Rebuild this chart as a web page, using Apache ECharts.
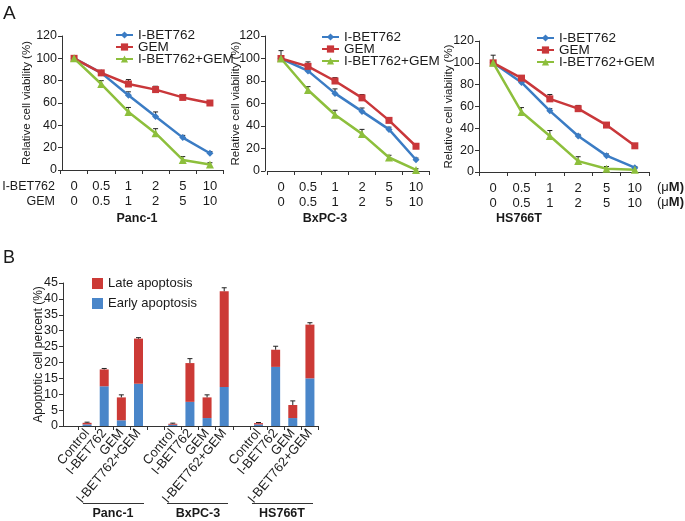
<!DOCTYPE html>
<html>
<head>
<meta charset="utf-8">
<script src="https://cdn.jsdelivr.net/npm/echarts@6/dist/echarts.min.js"></script>
<style>html,body{margin:0;padding:0;background:#fff}#c{width:685px;height:521px}</style>
</head>
<body>
<div id="c"></div>
<script>
// ---- Data: panel A (relative cell viability, %) ----
const ibetDoses = ['0', '0.5', '1', '2', '5', '10'];
const gemDoses = ['0', '0.5', '1', '2', '5', '10'];
const seriesNames = ['I-BET762', 'GEM', 'I-BET762+GEM'];
const cellLines = ['Panc-1', 'BxPC-3', 'HS766T'];

const panc1_ibet = [100, 87, 67, 48, 29, 15];
const panc1_gem = [100, 87, 77, 72, 65, 60];
const panc1_combo = [100, 77, 52, 33, 9, 5];
const panc1_ibet_err = [2, 2, 3, 4, 2, 1.5];
const panc1_gem_err = [1.5, 2, 4, 3, 1.5, 1.5];
const panc1_combo_err = [1.5, 3, 4, 4, 3, 1.5];

const bxpc3_ibet = [100, 89, 69, 53, 37, 10];
const bxpc3_gem = [100, 93, 80, 65, 45, 22];
const bxpc3_combo = [100, 72, 50, 33, 12, 1];
const bxpc3_ibet_err = [7, 2, 4, 3, 2, 1.5];
const bxpc3_gem_err = [2, 4, 3, 3, 1.5, 1.5];
const bxpc3_combo_err = [1.5, 3, 4, 4, 2, 1];

const hs766t_ibet = [100, 82, 56, 33, 15, 4];
const hs766t_gem = [100, 86, 67, 58, 43, 24];
const hs766t_combo = [100, 55, 33, 10, 3, 2];
const hs766t_ibet_err = [7, 2, 2, 1.5, 1.5, 1];
const hs766t_gem_err = [2, 2, 4, 3, 2, 1.5];
const hs766t_combo_err = [1.5, 4, 5, 4, 2, 1];

// ---- Data: panel B (apoptotic cell percent, %) ----
const barCats = ['Control', 'I-BET762', 'GEM', 'I-BET762+GEM', ' ',
                 'Control', 'I-BET762', 'GEM', 'I-BET762+GEM', '  ',
                 'Control', 'I-BET762', 'GEM', 'I-BET762+GEM'];
const earlyApop = [0.5, 12.5, 1.8, 13.3, null, 0.4, 7.6, 2.5, 12.3, null, 0.5, 18.6, 2.5, 15.0];
const lateApop = [0.5, 5.3, 7.2, 14.2, null, 0.3, 12.2, 6.5, 30.1, null, 0.4, 5.4, 4.1, 16.9];
const totalErr = [0.2, 0.3, 0.8, 0.3, null, 0.2, 1.4, 0.8, 1.1, null, 0.2, 1.1, 1.3, 0.6];

const panels = [
  {vals: [panc1_ibet, panc1_gem, panc1_combo], errs: [panc1_ibet_err, panc1_gem_err, panc1_combo_err]},
  {vals: [bxpc3_ibet, bxpc3_gem, bxpc3_combo], errs: [bxpc3_ibet_err, bxpc3_gem_err, bxpc3_combo_err]},
  {vals: [hs766t_ibet, hs766t_gem, hs766t_combo], errs: [hs766t_ibet_err, hs766t_gem_err, hs766t_combo_err]}
];

const FONT = "'Liberation Sans', Arial, Helvetica, sans-serif";
const TXT = '#1a1a1a';
const lineColors = ['#3b7cc4', '#c9373a', '#8dbf3c'];
const symbols = ['diamond', 'rect', 'triangle'];
const symbolSizes = [7, 7, 8];
const redBar = '#cc3a36';
const blueBar = '#4a86c9';

function errRender(params, api) {
  const x = api.value(0), y = api.value(1), e = api.value(2);
  if (e == null || isNaN(e)) return;
  const p0 = api.coord([x, y]);
  const p1 = api.coord([x, y + e]);
  const hw = 2.5;
  return {
    type: 'group',
    children: [
      {type: 'line', shape: {x1: p0[0], y1: p0[1], x2: p1[0], y2: p1[1]}, style: {stroke: '#222', lineWidth: 1}},
      {type: 'line', shape: {x1: p1[0] - hw, y1: p1[1], x2: p1[0] + hw, y2: p1[1]}, style: {stroke: '#222', lineWidth: 1}}
    ]
  };
}

const gridsA = [
  {left: 60.5, top: 36, width: 163, height: 134, yOff: -1.5, nameGap: 29},
  {left: 267.5, top: 36, width: 162, height: 135, yOff: 2.5, nameGap: 23},
  {left: 479, top: 41, width: 170, height: 131, yOff: 0, nameGap: 24}
];

const grid = [], xAxis = [], yAxis = [], series = [];
gridsA.forEach((g, k) => {
  grid.push({left: g.left, top: g.top, width: g.width, height: g.height, containLabel: false});
  xAxis.push({
    type: 'category', gridIndex: k, data: ibetDoses,
    axisLine: {lineStyle: {color: '#333', width: 1}},
    axisTick: {show: true, length: 4, lineStyle: {color: '#333'}},
    axisLabel: {
      interval: 0, margin: 9, color: TXT, fontFamily: FONT, fontSize: 13, lineHeight: 15,
      formatter: (v, i) => ibetDoses[i] + '\n' + gemDoses[i]
    }
  });
  yAxis.push({
    type: 'value', gridIndex: k, min: 0, max: 120, interval: 20, offset: g.yOff,
    name: 'Relative cell viability (%)', nameLocation: 'middle', nameGap: g.nameGap,
    nameMoveOverlap: false,
    nameTextStyle: {color: TXT, fontFamily: FONT, fontSize: 11.5},
    axisLine: {show: true, lineStyle: {color: '#333', width: 1}},
    axisTick: {show: true, length: 4, lineStyle: {color: '#333'}},
    axisLabel: {color: TXT, fontFamily: FONT, fontSize: 12.5, margin: 5},
    splitLine: {show: false}
  });
  const p = panels[k];
  p.vals.forEach((vals, s) => {
    series.push({
      type: 'custom', xAxisIndex: k, yAxisIndex: k, z: 1, silent: true,
      renderItem: errRender, encode: {x: 0, y: 1},
      data: vals.map((v, i) => [i, v, p.errs[s][i]])
    });
  });
  p.vals.forEach((vals, s) => {
    series.push({
      name: seriesNames[s], type: 'line', xAxisIndex: k, yAxisIndex: k, z: 3,
      data: vals, symbol: symbols[s], symbolSize: symbolSizes[s], showSymbol: true,
      lineStyle: {color: lineColors[s], width: 2.5},
      itemStyle: {color: lineColors[s]}, animation: false
    });
  });
});

// Panel B grid
grid.push({left: 78.5, top: 283, width: 240, height: 143});
xAxis.push({
  type: 'category', gridIndex: 3, data: barCats,
  axisLine: {lineStyle: {color: '#333', width: 1}},
  axisTick: {show: true, length: 4, lineStyle: {color: '#333'}},
  axisLabel: {interval: 0, rotate: 50, margin: 5, color: TXT, fontFamily: FONT, fontSize: 13}
});
yAxis.push({
  type: 'value', gridIndex: 3, min: 0, max: 45, interval: 5, offset: 15.5,
  name: 'Apoptotic cell percent (%)', nameLocation: 'middle', nameGap: 18,
  nameMoveOverlap: false,
  nameTextStyle: {color: TXT, fontFamily: FONT, fontSize: 12},
  axisLine: {show: true, lineStyle: {color: '#333', width: 1}},
  axisTick: {show: true, length: 4, lineStyle: {color: '#333'}},
  axisLabel: {color: TXT, fontFamily: FONT, fontSize: 12.5, margin: 5},
  splitLine: {show: false}
});
series.push({
  name: 'Early apoptosis', type: 'bar', xAxisIndex: 3, yAxisIndex: 3, stack: 'apop',
  barWidth: 9, data: earlyApop, itemStyle: {color: blueBar}, animation: false
});
series.push({
  name: 'Late apoptosis', type: 'bar', xAxisIndex: 3, yAxisIndex: 3, stack: 'apop',
  barWidth: 9, data: lateApop, itemStyle: {color: redBar}, animation: false
});
series.push({
  type: 'custom', xAxisIndex: 3, yAxisIndex: 3, z: 5, silent: true,
  renderItem: errRender, encode: {x: 0, y: 1},
  data: earlyApop.map((v, i) => v == null ? [i, null, null] : [i, v + lateApop[i], totalErr[i]])
});

const legendTxt = {color: TXT, fontFamily: FONT, fontSize: 13.5};
const legend = [
  {left: 110, top: 23, orient: 'vertical', itemWidth: 17, itemHeight: 9, itemGap: -2, data: seriesNames, textStyle: legendTxt, selectedMode: false},
  {left: 316, top: 25, orient: 'vertical', itemWidth: 17, itemHeight: 9, itemGap: -2, data: seriesNames, textStyle: legendTxt, selectedMode: false},
  {left: 531, top: 26, orient: 'vertical', itemWidth: 17, itemHeight: 9, itemGap: -2, data: seriesNames, textStyle: legendTxt, selectedMode: false},
  {left: 87, top: 272, orient: 'vertical', icon: 'rect', itemWidth: 11, itemHeight: 11, itemGap: 7,
   data: ['Late apoptosis', 'Early apoptosis'], textStyle: {color: TXT, fontFamily: FONT, fontSize: 13}, selectedMode: false}
];

function txt(text, x, y, opts) {
  return Object.assign({type: 'text', x: x, y: y, silent: true,
    style: Object.assign({text: text, fill: TXT, font: '13px ' + FONT, textAlign: 'left', textVerticalAlign: 'middle'}, opts || {})});
}
const muRich = {b: {fontWeight: 'bold', fontSize: 13, fontFamily: FONT, fill: TXT}};
const graphic = [
  txt('A', 3, 14, {font: '19px ' + FONT}),
  txt('B', 3, 258, {font: '18px ' + FONT}),
  txt('I-BET762', 55, 187, {textAlign: 'right', font: '12.5px ' + FONT}),
  txt('GEM', 55, 202, {textAlign: 'right', font: '12.5px ' + FONT}),
  {type: 'text', x: 657, y: 187, silent: true, style: {text: '(μ{b|M)}', rich: muRich, fill: TXT, font: '13px ' + FONT, textVerticalAlign: 'middle'}},
  {type: 'text', x: 657, y: 202, silent: true, style: {text: '(μ{b|M)}', rich: muRich, fill: TXT, font: '13px ' + FONT, textVerticalAlign: 'middle'}},
  txt(cellLines[0], 137, 219, {textAlign: 'center', font: 'bold 12.5px ' + FONT}),
  txt(cellLines[1], 325, 219, {textAlign: 'center', font: 'bold 12.5px ' + FONT}),
  txt(cellLines[2], 519, 219, {textAlign: 'center', font: 'bold 12.5px ' + FONT}),
  // extension of panel B x-axis line to the y-axis
  {type: 'line', silent: true, shape: {x1: 63, y1: 426.5, x2: 79, y2: 426.5}, style: {stroke: '#333', lineWidth: 1}},
  // group brackets
  {type: 'line', silent: true, shape: {x1: 83, y1: 503.5, x2: 144, y2: 503.5}, style: {stroke: '#333', lineWidth: 1}},
  {type: 'line', silent: true, shape: {x1: 167, y1: 503.5, x2: 228, y2: 503.5}, style: {stroke: '#333', lineWidth: 1}},
  {type: 'line', silent: true, shape: {x1: 252, y1: 503.5, x2: 313, y2: 503.5}, style: {stroke: '#333', lineWidth: 1}},
  txt(cellLines[0], 113, 514, {textAlign: 'center', font: 'bold 12.5px ' + FONT}),
  txt(cellLines[1], 198, 514, {textAlign: 'center', font: 'bold 12.5px ' + FONT}),
  txt(cellLines[2], 282, 514, {textAlign: 'center', font: 'bold 12.5px ' + FONT})
];

const chart = echarts.init(document.getElementById('c'), null, {renderer: 'canvas'});
chart.setOption({
  backgroundColor: '#fff',
  animation: false,
  grid: grid, xAxis: xAxis, yAxis: yAxis, series: series,
  legend: legend, graphic: graphic
});
</script>
</body>
</html>
